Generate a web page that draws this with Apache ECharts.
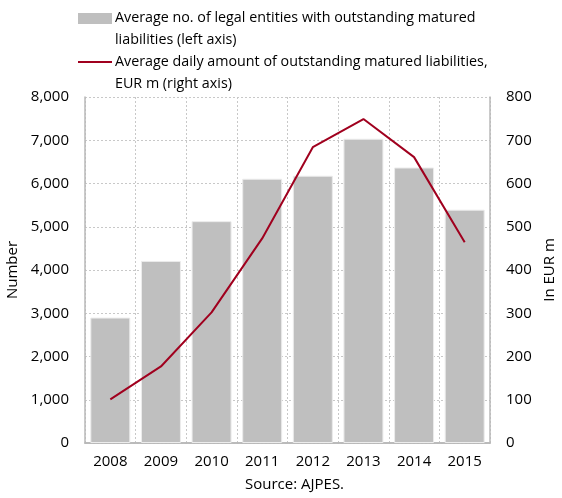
<!DOCTYPE html>
<html><head><meta charset="utf-8">
<script src="https://cdn.jsdelivr.net/npm/echarts@6/dist/echarts.min.js"></script>
<style>html,body{margin:0;padding:0;background:#fff}#c{width:562px;height:498px}</style>
</head><body><div id="c"></div>
<script>
const categories = ['2008','2009','2010','2011','2012','2013','2014','2015'];
const entities = [2900, 4210, 5130, 6110, 6180, 7035, 6370, 5395];
const amountEURm = [101, 177, 302, 473, 684, 749, 661, 464];
const leftTicks = {min: 0, max: 8000, interval: 1000};
const rightTicks = {min: 0, max: 800, interval: 100};
const legendBar = 'Average no. of legal entities with outstanding matured\nliabilities (left axis)';
const legendLine = 'Average daily amount of outstanding matured liabilities,\nEUR m (right axis)';
const sourceText = 'Source: AJPES.';

const FONT = 'Open Sans';
const FS = 15;
const LFS = 14.3;
const chart = echarts.init(document.getElementById('c'), null, {renderer: 'canvas'});
const gridLine = {show: true, lineStyle: {color: '#c8c8c8', type: [2, 2], width: 1}};
const axisLineStyle = {color: '#b8b8b8', width: 1.5};
chart.setOption({
  animation: false,
  textStyle: {fontFamily: FONT},
  grid: {left: 85, right: 72, top: 97, bottom: 55, containLabel: false, outerBoundsMode: 'none'},
  xAxis: [{
    type: 'category', data: categories,
    axisLine: {lineStyle: axisLineStyle},
    axisTick: {show: false},
    splitLine: gridLine,
    axisLabel: {color: '#000', fontSize: FS, margin: 11, fontFamily: FONT}
  }, {
    type: 'category', data: categories, position: 'top',
    axisLine: {lineStyle: axisLineStyle},
    axisTick: {show: false}, axisLabel: {show: false}, splitLine: {show: false}
  }],
  yAxis: [{
    type: 'value', min: leftTicks.min, max: leftTicks.max, interval: leftTicks.interval,
    name: 'Number', nameLocation: 'middle', nameGap: 60, nameRotate: 90,
    nameTextStyle: {color: '#000', fontSize: FS, fontFamily: FONT},
    axisLine: {show: true, lineStyle: axisLineStyle},
    axisTick: {show: false},
    splitLine: gridLine,
    axisLabel: {color: '#000', fontSize: FS, margin: 16, fontFamily: FONT,
      formatter: v => v.toLocaleString('en-US')}
  }, {
    type: 'value', min: rightTicks.min, max: rightTicks.max, interval: rightTicks.interval,
    name: 'In EUR m', nameLocation: 'middle', nameGap: 48, nameRotate: 90,
    nameTextStyle: {color: '#000', fontSize: FS, fontFamily: FONT},
    axisLine: {show: true, lineStyle: axisLineStyle},
    axisTick: {show: false},
    splitLine: {show: false},
    axisLabel: {color: '#000', fontSize: FS, margin: 16, fontFamily: FONT}
  }],
  series: [{
    type: 'bar', data: entities, yAxisIndex: 0, barCategoryGap: '21%',
    itemStyle: {color: '#bfbfbf', borderColor: '#ececec', borderWidth: 1}
  }, {
    type: 'line', data: amountEURm, yAxisIndex: 1, symbol: 'none',
    lineStyle: {color: '#a0001e', width: 2}
  }],
  graphic: [
    {type: 'rect', left: 78, top: 13, shape: {width: 34, height: 11}, style: {fill: '#bfbfbf'}},
    {type: 'text', left: 115, top: 7, style: {text: legendBar, font: LFS + 'px "' + FONT + '"', fill: '#000', lineHeight: 22}},
    {type: 'line', shape: {x1: 78, y1: 62, x2: 112, y2: 62}, style: {stroke: '#a0001e', lineWidth: 2}},
    {type: 'text', left: 115, top: 51, style: {text: legendLine, font: LFS + 'px "' + FONT + '"', fill: '#000', lineHeight: 22}},
    {type: 'text', left: 245, top: 477, style: {text: sourceText, font: FS + 'px "' + FONT + '"', fill: '#000'}}
  ]
});
</script></body></html>
